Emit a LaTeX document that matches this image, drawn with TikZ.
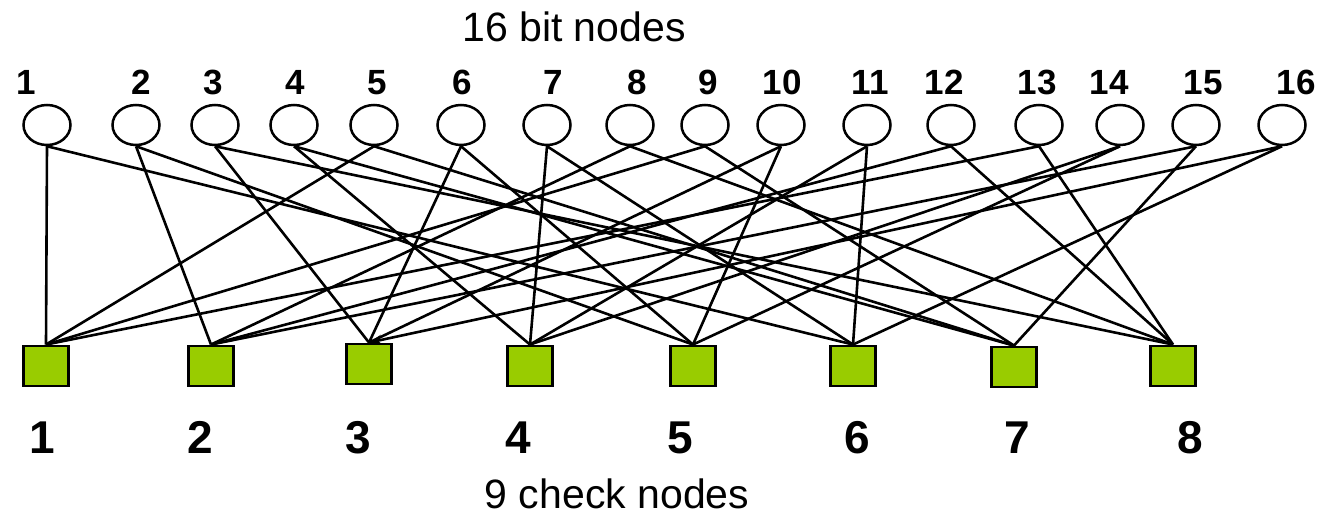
\documentclass[tikz,border=0pt]{standalone}
\usepackage{fontspec}
\setmainfont{Liberation Sans}
\usetikzlibrary{shapes.geometric,arrows.meta}
\definecolor{checkgreen}{HTML}{99CC00}
\tikzset{
  bitnode/.style={draw,ellipse,line width=2.5pt,minimum width=47pt,minimum height=40pt,inner sep=0pt},
  checknode/.style={draw,rectangle,fill=checkgreen,line width=2.9pt,minimum width=45pt,minimum height=40pt,inner sep=0pt},
  wire/.style={line width=2.6pt},
  bitlabel/.style={font=\fontsize{35}{38}\selectfont\bfseries,inner sep=0pt,anchor=base},
  checklabel/.style={font=\fontsize{46}{50}\selectfont\bfseries,inner sep=0pt,anchor=base},
  title/.style={font=\fontsize{41}{46}\selectfont,inner sep=0pt,anchor=base}
}
\begin{document}
\begin{tikzpicture}[x=1pt,y=-1pt]
\useasboundingbox (0,0) rectangle (1327,516);
% bit nodes and their numbers
\foreach \i/\x/\lx in {1/47/26,2/136/141,3/215/213,4/294/295,5/374/377,6/461/462,7/547/553,8/630/637,
  9/705/708,10/781/782,11/867/870,12/951/944,13/1039/1037,14/1120/1109,15/1196/1203,16/1282/1296}{
  \node[bitnode] (b\i) at (\x,125) {};
  \node[bitlabel] (bl\i) at (\lx,94.5) {\i};
}
% check nodes and their numbers
\foreach \j/\x/\y/\lx in {1/46/366/42,2/211/366/200,3/369/364/358,4/530/366/518,5/693/366/680,
  6/853/366/857,7/1014/367/1017,8/1173/366/1190}{
  \node[checknode] (c\j) at (\x,\y) {};
  \node[checklabel] (cl\j) at (\lx,453.5) {\j};
}
\node[title] (bittitle) at (574,42) {16 bit nodes};
\node[title] (checktitle) at (617,508) {9 check nodes};
% edges of the graph
\foreach \b/\c in {1/1,1/6,2/2,2/5,3/3,3/8,4/4,4/7,5/1,5/7,6/3,6/5,7/4,7/6,8/2,8/8,
  9/1,9/7,10/3,10/5,11/4,11/6,12/2,12/8,13/1,13/8,14/4,14/5,15/2,15/7,16/6}
  \draw[wire] (b\b.south) -- (c\c.north);
\draw[wire,-{Stealth[length=13pt,width=10pt]}] (b16.south) -- (c3.north);
\end{tikzpicture}
\end{document}
